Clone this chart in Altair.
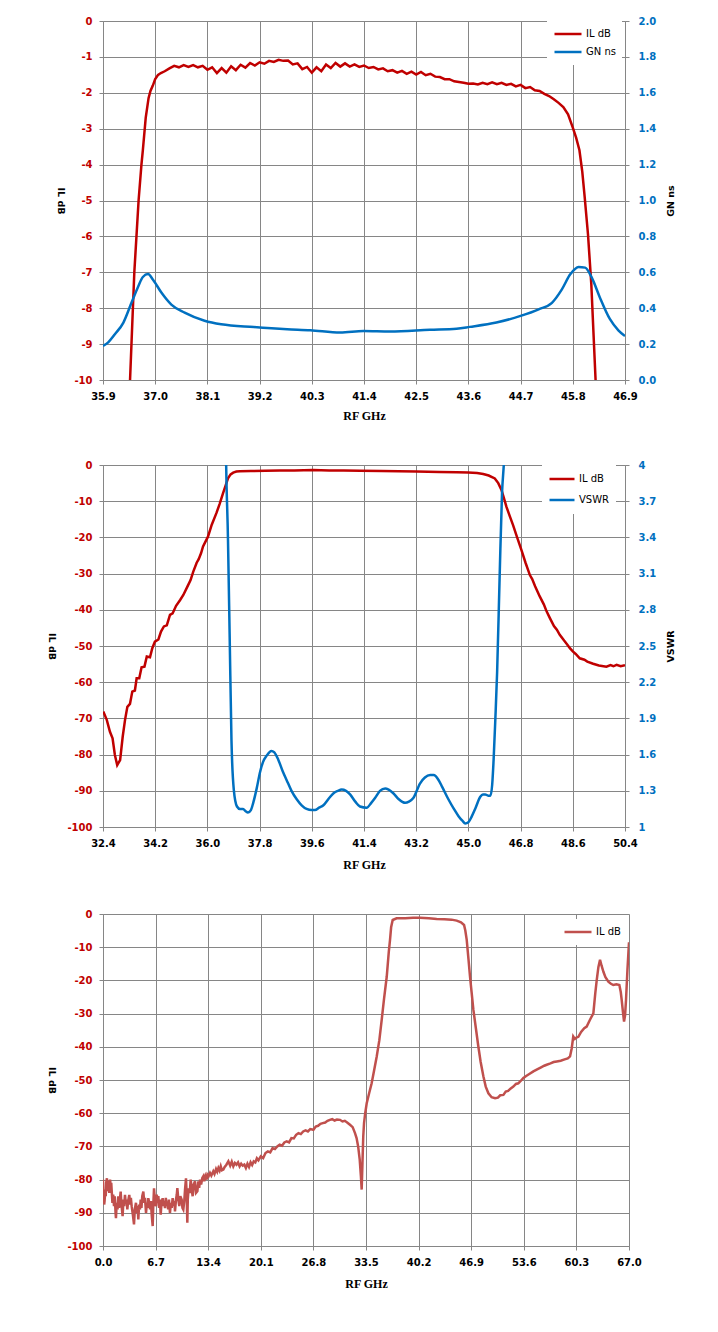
import altair as alt
import pandas as pd
import numpy as np

RED = "#C00000"
BLUE = "#0070C0"
RED3 = "#C0504D"
GRID = "#868686"

# ---------------- Chart 1 : IL dB / GN ns ----------------
x1_ticks = [35.9, 37.0, 38.1, 39.2, 40.3, 41.4, 42.5, 43.6, 44.7, 45.8, 46.9]
y1_ticks = [0, -1, -2, -3, -4, -5, -6, -7, -8, -9, -10]
y1r_ticks = [0.0, 0.2, 0.4, 0.6, 0.8, 1.0, 1.2, 1.4, 1.6, 1.8, 2.0]

il1_f_lo = [36.40, 36.47, 36.56, 36.65, 36.71, 36.74, 36.80, 36.86, 36.90, 36.95,
            37.00, 37.06, 37.12, 37.20, 37.30]
il1_v_lo = [-12, -10, -7, -5, -4, -3.6, -2.7, -2.15, -1.95, -1.8,
            -1.62, -1.5, -1.45, -1.4, -1.32]
il1_f_pass = list(np.round(np.arange(37.4, 45.45, 0.1), 2))
il1_v_pass = [-1.25, -1.29, -1.23, -1.28, -1.23, -1.29, -1.25, -1.36, -1.29, -1.45,
              -1.31, -1.44, -1.26, -1.37, -1.22, -1.30, -1.17, -1.24, -1.15, -1.19,
              -1.11, -1.14, -1.08, -1.11, -1.10, -1.21, -1.18, -1.34, -1.28, -1.44,
              -1.29, -1.40, -1.21, -1.31, -1.17, -1.27, -1.18, -1.27, -1.21, -1.28,
              -1.24, -1.31, -1.28, -1.35, -1.32, -1.40, -1.37, -1.44, -1.39, -1.47,
              -1.41, -1.49, -1.42, -1.51, -1.47, -1.55, -1.56, -1.62, -1.62, -1.68,
              -1.70, -1.72, -1.75, -1.74, -1.77, -1.72, -1.76, -1.71, -1.76, -1.72,
              -1.78, -1.75, -1.82, -1.78, -1.87, -1.84, -1.93, -1.95, -2.03, -2.09,
              -2.18]
il1_f_hi = [45.5, 45.6, 45.7, 45.8, 45.87, 45.94, 46.0, 46.05, 46.12, 46.19, 46.28, 46.33]
il1_v_hi = [-2.28, -2.4, -2.6, -2.97, -3.25, -3.6, -4.2, -4.9, -5.94, -7.33, -10, -11]

gn_f = [35.9, 36.01, 36.15, 36.33, 36.5, 36.64, 36.74, 36.85, 36.95, 37.13, 37.34,
        37.62, 38.04, 38.39, 39.08, 39.78, 40.27, 40.9, 41.39, 41.95, 42.79, 43.35,
        43.63, 44.19, 44.7, 45.08, 45.36, 45.57, 45.75, 45.92, 46.06, 46.2, 46.37,
        46.58, 46.76, 46.9]
gn_v = [0.19, 0.21, 0.255, 0.32, 0.43, 0.52, 0.574, 0.59, 0.56, 0.487, 0.42,
        0.375, 0.33, 0.31, 0.295, 0.283, 0.277, 0.264, 0.273, 0.27, 0.28, 0.286,
        0.296, 0.32, 0.357, 0.394, 0.43, 0.505, 0.59, 0.63, 0.626, 0.57, 0.46,
        0.34, 0.277, 0.245]

# ---------------- Chart 2 : IL dB / VSWR ----------------
x2_ticks = [32.4, 34.2, 36.0, 37.8, 39.6, 41.4, 43.2, 45.0, 46.8, 48.6, 50.4]
y2_ticks = [0, -10, -20, -30, -40, -50, -60, -70, -80, -90, -100]
y2r_ticks = [1, 1.3, 1.6, 1.9, 2.2, 2.5, 2.8, 3.1, 3.4, 3.7, 4]

il2_f = [32.41, 32.53, 32.64, 32.73, 32.81, 32.89, 32.99, 33.08, 33.16, 33.24,
         33.33, 33.41, 33.5, 33.56, 33.65, 33.73, 33.83, 33.91, 34.02, 34.1,
         34.19, 34.31, 34.4, 34.5, 34.6, 34.71, 34.8, 34.92, 35.06, 35.17,
         35.31, 35.42, 35.51, 35.63, 35.7, 35.78, 35.85, 36.02, 36.15, 36.31,
         36.42, 36.54, 36.63, 36.71, 36.8, 36.89, 37.0, 37.12, 37.5, 38.0,
         38.5, 39.0, 39.65, 40.2, 40.7, 41.26, 42.0, 42.6, 43.21, 44.0,
         44.6, 44.99, 45.3, 45.51, 45.7, 45.91, 46.03, 46.14, 46.22, 46.31,
         46.42, 46.54, 46.68, 46.83, 46.97, 47.12, 47.2, 47.3, 47.46, 47.6,
         47.7, 47.81, 47.95, 48.05, 48.15, 48.3, 48.4, 48.5, 48.6, 48.7,
         48.84, 49.0, 49.1, 49.3, 49.5, 49.76, 49.9, 50.0, 50.11, 50.25, 50.4]
il2_v = [-68.1, -70.4, -73.7, -75.5, -80.1, -82.9, -81.5, -75.0, -70.4, -66.8,
         -66.0, -62.6, -62.3, -58.9, -58.9, -55.9, -55.7, -52.9, -53.1, -50.6,
         -48.8, -48.2, -46.0, -44.6, -44.3, -41.4, -41.0, -38.9, -37.3, -35.9,
         -33.6, -31.8, -29.5, -27.0, -26.0, -24.4, -22.5, -19.8, -16.5, -13.3,
         -10.8, -7.8, -5.6, -3.7, -2.6, -2.1, -1.8, -1.7, -1.65, -1.6,
         -1.55, -1.5, -1.4, -1.5, -1.55, -1.6, -1.65, -1.75, -1.8, -1.9,
         -2.0, -2.1, -2.2, -2.5, -2.9, -3.7, -5.0, -6.9, -9.0, -11.5,
         -14.0, -16.6, -20.0, -23.5, -27.0, -30.4, -31.5, -33.5, -36.3, -38.5,
         -40.5, -42.3, -44.5, -45.5, -46.9, -48.5, -49.5, -50.6, -51.5, -52.2,
         -53.4, -53.8, -54.3, -54.9, -55.4, -55.7, -55.3, -55.6, -55.2, -55.6, -55.3]

vswr_f = [36.55, 36.63, 36.71, 36.77, 36.83, 36.91, 37.02, 37.12, 37.23, 37.32,
          37.4, 37.5, 37.58, 37.7, 37.81, 37.92, 38.04, 38.21, 38.3, 38.44,
          38.6, 38.73, 38.9, 39.08, 39.25, 39.42, 39.6, 39.71, 39.85, 40.0,
          40.2, 40.35, 40.5, 40.63, 40.78, 40.92, 41.1, 41.26, 41.49, 41.65,
          41.78, 41.95, 42.13, 42.25, 42.41, 42.6, 42.82, 42.95, 43.1, 43.33,
          43.5, 43.68, 43.8, 43.97, 44.1, 44.31, 44.5, 44.66, 44.8, 44.89,
          45.0, 45.12, 45.25, 45.41, 45.5, 45.58, 45.68, 45.76, 45.82, 45.87,
          45.93, 45.99, 46.08, 46.16, 46.22, 46.3, 46.4]
vswr_v = [8.0, 4.3, 3.38, 2.55, 1.72, 1.31, 1.17, 1.15, 1.15, 1.13,
          1.12, 1.14, 1.2, 1.32, 1.45, 1.54, 1.59, 1.63, 1.62, 1.56,
          1.46, 1.39, 1.3, 1.23, 1.18, 1.15, 1.14, 1.14, 1.16, 1.18,
          1.24, 1.28, 1.3, 1.31, 1.3, 1.27, 1.21, 1.17, 1.16, 1.2,
          1.24, 1.3, 1.32, 1.31, 1.28, 1.23, 1.2, 1.21, 1.24, 1.36,
          1.41, 1.43, 1.43, 1.39, 1.33, 1.23, 1.15, 1.09, 1.05, 1.03,
          1.04, 1.09, 1.16, 1.25, 1.27, 1.27, 1.26, 1.26, 1.35, 1.56,
          1.9, 2.28, 3.1, 3.77, 4.0, 4.4, 6.0]

# ---------------- Chart 3 : IL dB wideband ----------------
x3_ticks = [0.0, 6.7, 13.4, 20.1, 26.8, 33.5, 40.2, 46.9, 53.6, 60.3, 67.0]
y3_ticks = [0, -10, -20, -30, -40, -50, -60, -70, -80, -90, -100]

il3_f = [0.0, 0.05, 0.1, 0.15, 0.2, 0.3, 0.35, 0.4, 0.5, 0.55, 0.6, 0.7, 0.75, 0.8,
         0.9, 1.0, 1.05, 1.1, 1.2, 1.25, 1.3, 1.4, 1.45,
         1.5, 1.6, 1.65, 1.75, 1.85, 1.95, 2.05, 2.15, 2.25, 2.35, 2.5, 2.6, 2.7,
         2.8, 2.9, 3.0, 3.1, 3.2, 3.35, 3.45, 3.55, 3.65, 3.8, 3.95, 4.05, 4.2,
         4.3, 4.4, 4.5, 4.6, 4.71, 4.8, 4.9, 5.0, 5.14, 5.25, 5.35, 5.48, 5.6,
         5.68, 5.77, 5.9, 5.99, 6.1, 6.2, 6.33, 6.4, 6.5, 6.6, 6.75, 6.85, 6.95,
         7.05, 7.15, 7.25, 7.35, 7.45, 7.6, 7.7, 7.8, 7.9, 8.0, 8.1, 8.2, 8.3,
         8.4, 8.53, 8.65, 8.75, 8.87, 9.0, 9.1, 9.17, 9.3, 9.4, 9.47, 9.6, 9.72,
         9.85, 10.02, 10.12, 10.23, 10.35, 10.45, 10.57, 10.65, 10.74, 10.8,
         10.91, 11.05, 11.17, 11.3, 11.42, 11.55, 11.72, 11.85, 12.02, 12.15,
         12.25, 12.36, 12.5, 12.65, 12.78, 12.9, 13.05, 13.2, 13.3, 13.45, 13.63,
         13.8, 14.05, 14.2, 14.4, 14.55, 14.7, 14.85, 15.0, 15.15, 15.33, 15.5,
         15.7, 15.97, 16.2, 16.4, 16.6, 16.8, 17.0, 17.2, 17.4, 17.6, 17.8, 18.0,
         18.2, 18.4, 18.6, 18.8, 19.0, 19.2, 19.4, 19.6, 19.8, 20.1, 20.4, 20.7,
         21.0, 21.3, 21.6, 21.9, 22.2, 22.5, 22.8, 23.1, 23.4, 23.7, 24.0, 24.3,
         24.6, 24.9, 25.2, 25.5, 25.8, 26.1, 26.4, 26.8, 27.1, 27.4, 27.7, 28.0,
         28.3, 28.6, 28.9, 29.2, 29.5, 29.8, 30.19, 30.5, 30.8, 31.1, 31.46, 31.8,
         32.1, 32.3, 32.5, 32.7, 32.85, 32.95, 33.05, 33.15, 33.25, 33.4, 33.59,
         33.9, 34.22, 34.5, 34.86, 35.2, 35.5, 35.8, 36.14, 36.4, 36.56, 36.7,
         36.9, 37.4, 38.5, 39.5, 40.38, 41.5, 42.5, 43.5, 44.4, 45.05, 45.6,
         45.99, 46.15, 46.33, 46.55, 46.75, 46.95, 47.18, 47.5, 47.81, 48.1,
         48.45, 48.75, 49.09, 49.5, 49.94, 50.3, 50.6, 51.0, 51.3, 51.6, 51.9,
         52.27, 52.6, 52.9, 53.2, 53.55, 53.9, 54.3, 54.82, 55.3, 55.8, 56.2,
         56.52, 57.0, 57.4, 57.8, 58.3, 58.8, 59.2, 59.49, 59.7, 59.9, 60.1,
         60.3, 60.55, 60.9, 61.3, 61.61, 62.0, 62.46, 62.7, 62.89, 63.1, 63.31,
         63.5, 63.74, 64.0, 64.37, 64.7, 65.0, 65.4, 65.77, 65.95, 66.07, 66.25,
         66.37, 66.5, 66.62, 66.8, 67.0]
il3_v = [-80, -86, -84, -87.5, -86.5, -83, -85, -81, -79.6, -83.5, -82, -80.3, -83, -84,
         -80, -82.5, -81, -83, -87, -85, -84.5, -88, -86,
         -85, -90, -91.6, -87, -89, -85, -88.5, -86, -83.6, -87.5, -91, -86, -88,
         -84.6, -87, -86, -89, -86.5, -84.6, -87.5, -85.5, -88, -90.5, -93.5, -89, -87,
         -90, -88, -92, -87.5, -89, -86, -88.5, -85, -83.6, -87, -85.5, -90, -87,
         -88.5, -85.6, -87, -89, -86.5, -90.5, -94, -88, -82.6, -86, -88, -84.5, -87,
         -85, -88.5, -86, -90.6, -87, -85.6, -88, -86.5, -88.6, -85.5, -87.5, -86.6, -89,
         -86, -90, -87, -88.5, -85.6, -88, -86.5, -89.6, -86, -84.5, -82.6, -86, -88,
         -85, -86, -88.5, -89, -86.5, -83, -79.6, -84, -93, -86,
         -82.6, -84, -80, -83, -85, -81.5, -80.5, -84, -83.5, -80.5,
         -82.5, -80, -81.5, -79.5, -79, -80.5, -79, -80, -78.5, -79, -78,
         -78.8, -77.5, -78.3, -76.8, -77.6, -76.5, -77.3, -76, -77.2, -77, -76.2,
         -75.6, -74.5, -75.8, -74.6, -76, -75, -75.5, -74.8, -76, -75.2, -75.8, -75.5,
         -76.5, -75.2, -76.2, -74.8, -75.6, -74.5, -74.8, -73.6, -74.2, -73, -73.5, -72,
         -71.5, -71.8, -70.5, -70.8, -70, -69.5, -69.8, -68.8, -68.5, -68.8, -67.5, -67.6,
         -66.5, -66, -66.3, -65.5, -65.2, -65.5, -64.8, -65, -64, -63.8, -63.2, -63,
         -62.8, -62.3, -62, -61.8, -62.2, -61.9, -62, -62.5, -62.3, -62.8, -63.5, -64.2,
         -66, -67.5, -70, -74, -79, -83, -75, -67, -63, -60, -57,
         -54, -51, -47.5, -43, -38, -31.9, -25.5, -18.9, -11.5, -7.8, -4,
         -1.8, -1.3, -1.25, -1.15, -1.1, -1.3, -1.5, -1.6, -1.7, -2, -2.5,
         -3.3, -5, -7.8, -13.5, -18.9, -23.5, -28.9, -34.5, -39.9, -44.5,
         -48.9, -52, -54, -55.2, -55.5, -55.3, -54.6, -54.5, -53.5, -53.3, -52.6,
         -52, -51.2, -51, -50.3, -49.4, -48.8, -48.2, -47.4, -46.8, -46.2, -45.7,
         -45.4, -45, -44.6, -44.4, -44.2, -43.8, -43.5, -42.9, -40.5, -36.9, -37.6,
         -37.2, -37, -35.5, -34.4, -33.9, -32, -29.9, -24, -19.9, -16, -13.8,
         -15.5, -17.4, -19, -20.4, -21, -21.4, -21.2, -21.4, -23.5, -25.9, -30,
         -32.4, -30.5, -25.9, -16.9, -8.5]

# ---------------- styling helpers ----------------
TICK_FONT = "DejaVu Sans"


def x_axis(values, fmt, title_pad):
    return alt.Axis(values=values, format=fmt, title="RF GHz", grid=True,
                    gridColor=GRID, gridWidth=1, domainColor=GRID, tickColor=GRID,
                    tickSize=4, labelFont=TICK_FONT, labelFontSize=10,
                    labelFontWeight="bold", labelColor="black", labelPadding=7,
                    labelFlush=False, titleFont="Liberation Serif", titleFontSize=12,
                    titleFontWeight="bold", titleColor="black", titlePadding=title_pad)


def y_left_axis(values, title_pad):
    return alt.Axis(values=values, labelExpr="toString(datum.value)", title="IL dB",
                    grid=True, gridColor=GRID, gridWidth=1, domainColor=GRID,
                    tickColor=GRID, tickSize=4, labelFont=TICK_FONT, labelFontSize=10,
                    labelFontWeight="bold", labelColor=RED, labelPadding=7,
                    titleFont=TICK_FONT, titleFontSize=9.5, titleFontWeight="bold",
                    titleColor="black", titleAngle=90, titleBaseline="top",
                    titlePadding=title_pad)


def y_right_axis(values, title, label_expr):
    return alt.Axis(values=values, labelExpr=label_expr, title=title, orient="right",
                    grid=False, domainColor=GRID, tickColor=GRID, tickSize=4,
                    labelFont=TICK_FONT, labelFontSize=10, labelFontWeight="bold",
                    labelColor=BLUE, labelPadding=9, titleFont=TICK_FONT,
                    titleFontSize=9.5, titleFontWeight="bold", titleColor="black",
                    titleAngle=-90, titleBaseline="top", titlePadding=10)


def legend(lx, ly, sym, clip_h, row_pad):
    return alt.Legend(title=None, orient="none", legendX=lx, legendY=ly,
                      symbolType="stroke", symbolSize=sym, symbolStrokeWidth=2.5,
                      clipHeight=clip_h, rowPadding=row_pad, padding=6,
                      fillColor="white", labelFont=TICK_FONT, labelFontSize=10,
                      labelColor="black", labelOffset=3)


# ---------------- Chart 1 ----------------
df1a = pd.DataFrame({"f": il1_f_lo + il1_f_pass + il1_f_hi,
                     "v": il1_v_lo + il1_v_pass + il1_v_hi, "series": "IL dB"})
df1b = pd.DataFrame({"f": gn_f, "v": gn_v, "series": "GN ns"})
col1 = alt.Color("series:N", scale=alt.Scale(domain=["IL dB", "GN ns"], range=[RED, BLUE]),
                 legend=legend(444, 0, 729, 14, 4))
xs1 = alt.X("f:Q", scale=alt.Scale(domain=[35.9, 46.9], nice=False, zero=False),
            axis=x_axis(x1_ticks, ".1f", 9))
l1a = alt.Chart(df1a).mark_line(strokeWidth=2.5, clip=True).encode(
    x=xs1,
    y=alt.Y("v:Q", scale=alt.Scale(domain=[-10, 0], nice=False),
            axis=y_left_axis(y1_ticks, 8)),
    color=col1, order="f:Q")
l1b = alt.Chart(df1b).mark_line(strokeWidth=2.5, clip=True, interpolate="monotone").encode(
    x=xs1,
    y=alt.Y("v:Q", scale=alt.Scale(domain=[0, 2], nice=False, zero=False),
            axis=y_right_axis(y1r_ticks, "GN ns", "format(datum.value, '.1f')")),
    color=col1, order="f:Q")
c1 = alt.layer(l1a, l1b).resolve_scale(y="independent").properties(width=522, height=359)

# ---------------- Chart 2 ----------------
df2a = pd.DataFrame({"f": il2_f, "v": il2_v, "series": "IL dB"})
df2b = pd.DataFrame({"f": vswr_f, "v": vswr_v, "series": "VSWR"})
col2 = alt.Color("series:N", scale=alt.Scale(domain=["IL dB", "VSWR"], range=[RED, BLUE]),
                 legend=legend(439, 0, 625, 16, 5))
xs2 = alt.X("f:Q", scale=alt.Scale(domain=[32.4, 50.4], nice=False, zero=False),
            axis=x_axis(x2_ticks, ".1f", 11))
l2a = alt.Chart(df2a).mark_line(strokeWidth=2.5, clip=True).encode(
    x=xs2,
    y=alt.Y("v:Q", scale=alt.Scale(domain=[-100, 0], nice=False),
            axis=y_left_axis(y2_ticks, 10)),
    color=col2, order="f:Q")
l2b = alt.Chart(df2b).mark_line(strokeWidth=2.5, clip=True, interpolate="monotone").encode(
    x=xs2,
    y=alt.Y("v:Q", scale=alt.Scale(domain=[1, 4], nice=False, zero=False),
            axis=y_right_axis(y2r_ticks, "VSWR", "toString(datum.value)")),
    color=col2, order="f:Q")
c2 = alt.layer(l2a, l2b).resolve_scale(y="independent").properties(width=522, height=362)

# ---------------- Chart 3 ----------------
df3 = pd.DataFrame({"f": il3_f, "v": il3_v, "series": "IL dB"})
col3 = alt.Color("series:N", scale=alt.Scale(domain=["IL dB"], range=[RED3]),
                 legend=legend(454, 5, 729, 14, 4))
c3 = alt.Chart(df3).mark_line(strokeWidth=2.5, clip=True).encode(
    x=alt.X("f:Q", scale=alt.Scale(domain=[0, 67], nice=False, zero=False),
            axis=x_axis(x3_ticks, ".1f", 11)),
    y=alt.Y("v:Q", scale=alt.Scale(domain=[-100, 0], nice=False),
            axis=y_left_axis(y3_ticks, 10)),
    color=col3, order="f:Q").properties(width=526, height=332)

chart = alt.concat(c1, c2, c3, columns=1, spacing=37, align="none").resolve_scale(
    color="independent"
).properties(
    padding={"left": 38, "top": 7, "right": 5, "bottom": 5}
).configure_view(stroke=None).configure(background="white")

chart.save("out.html", embed_options={"renderer": "svg", "actions": False})
